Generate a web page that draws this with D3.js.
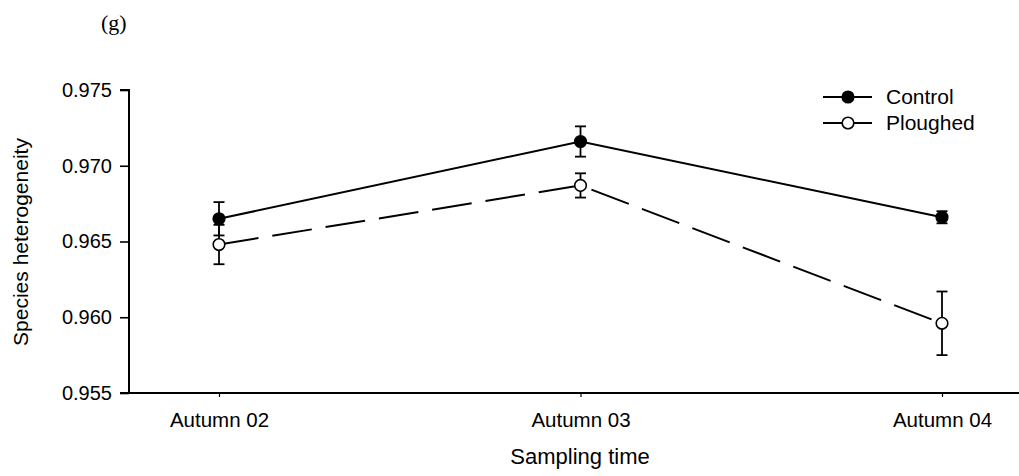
<!DOCTYPE html>
<html>
<head>
<meta charset="utf-8">
<script src="https://cdn.jsdelivr.net/npm/d3@7"></script>
<style>
  html, body { margin: 0; padding: 0; background: #fff; }
  svg { display: block; }
  text { font-family: "Liberation Sans", Arial, Helvetica, sans-serif; fill: #000; }
</style>
</head>
<body>
<svg id="chart" width="1019" height="476"></svg>
<script>
// Sampling times and mean species heterogeneity (± SE) per treatment
const categories = ["Autumn 02", "Autumn 03", "Autumn 04"];
const controlMean = [0.9665, 0.9716, 0.9666];
const controlErr = [0.0011, 0.0010, 0.0004];
const ploughedMean = [0.9648, 0.9687, 0.9596];
const ploughedErr = [0.0013, 0.0008, 0.0021];
const yTicks = [0.955, 0.960, 0.965, 0.970, 0.975];
const seriesNames = ["Control", "Ploughed"];

const svg = d3.select("#chart");

const x = d3.scalePoint().domain(categories).range([219, 942]);
const y = d3.scaleLinear().domain([0.955, 0.975]).range([393, 90]);
const axisLeft = 129, axisRight = 1019;

// Panel letter
svg.append("text")
  .attr("x", 101).attr("y", 30)
  .style("font-family", "'Liberation Serif', 'Times New Roman', serif")
  .style("font-size", "22px")
  .text("(g)");

// Y axis
const yAxis = svg.append("g")
  .attr("transform", `translate(${axisLeft},0)`)
  .call(d3.axisLeft(y).tickValues(yTicks).tickFormat(d3.format(".3f")).tickSize(9).tickPadding(8));
yAxis.select(".domain").attr("stroke-width", 2).attr("d", `M-9,${y(0.975)}H0V${y(0.955)}H-9`);
yAxis.selectAll(".tick line").attr("stroke-width", 1.6);
yAxis.selectAll(".tick text").style("font-size", "20px").style("font-family", "'Liberation Sans', Arial, sans-serif");

// X axis
const xAxis = svg.append("g")
  .attr("transform", `translate(0,${y(0.955)})`)
  .call(d3.axisBottom(x).tickSize(4).tickPadding(15));
xAxis.select(".domain").attr("stroke-width", 2).attr("d", `M${axisLeft},0H${axisRight}`);
xAxis.selectAll(".tick line").attr("stroke-width", 1.2);
xAxis.selectAll(".tick text").style("font-size", "20.5px").style("font-family", "'Liberation Sans', Arial, sans-serif");

// Axis titles
svg.append("text")
  .attr("x", 580).attr("y", 464)
  .attr("text-anchor", "middle")
  .style("font-size", "22px")
  .text("Sampling time");

svg.append("text")
  .attr("transform", "translate(28,242) rotate(-90)")
  .attr("text-anchor", "middle")
  .style("font-size", "21px")
  .text("Species heterogeneity");

const series = [
  { name: seriesNames[0], mean: controlMean, err: controlErr, fill: "#000", dash: null },
  { name: seriesNames[1], mean: ploughedMean, err: ploughedErr, fill: "#fff", dash: "40,14" }
];

const line = d3.line().x((d, i) => x(categories[i])).y(d => y(d));

series.forEach(s => {
  const g = svg.append("g");
  g.append("path")
    .attr("d", line(s.mean))
    .attr("fill", "none")
    .attr("stroke", "#000")
    .attr("stroke-width", 2)
    .attr("stroke-dasharray", s.dash);

  s.mean.forEach((m, i) => {
    const cx = x(categories[i]);
    const top = y(m + s.err[i]), bot = y(m - s.err[i]);
    g.append("line").attr("x1", cx).attr("x2", cx).attr("y1", top).attr("y2", bot)
      .attr("stroke", "#000").attr("stroke-width", 1.8);
    [top, bot].forEach(v => g.append("line")
      .attr("x1", cx - 5.5).attr("x2", cx + 5.5).attr("y1", v).attr("y2", v)
      .attr("stroke", "#000").attr("stroke-width", 1.8));
  });

  g.selectAll("circle").data(s.mean).join("circle")
    .attr("cx", (d, i) => x(categories[i]))
    .attr("cy", d => y(d))
    .attr("r", 5.8)
    .attr("fill", s.fill)
    .attr("stroke", "#000")
    .attr("stroke-width", 1.6);
});

// Legend
const legend = svg.append("g");
series.forEach((s, i) => {
  const ly = 97 + i * 26;
  legend.append("line").attr("x1", 823).attr("x2", 872).attr("y1", ly).attr("y2", ly)
    .attr("stroke", "#000").attr("stroke-width", 2);
  legend.append("circle").attr("cx", 848).attr("cy", ly).attr("r", 5.8)
    .attr("fill", s.fill).attr("stroke", "#000").attr("stroke-width", 1.6);
  legend.append("text").attr("x", 886).attr("y", ly + 7)
    .style("font-size", "21px")
    .text(s.name);
});
</script>
</body>
</html>
